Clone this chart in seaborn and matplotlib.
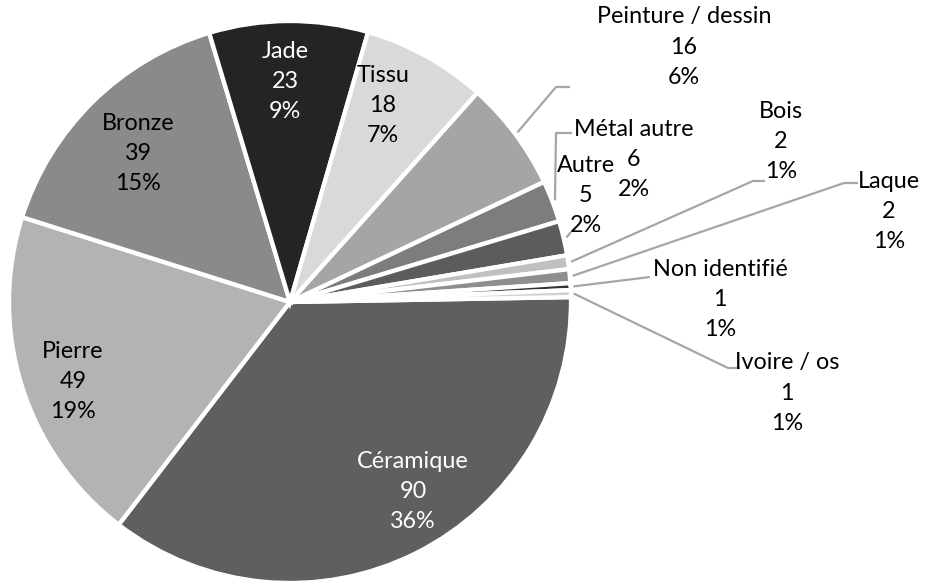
import matplotlib
matplotlib.use("Agg")
import matplotlib.pyplot as plt
import seaborn as sns
import numpy as np

# data
categories = ["Céramique", "Pierre", "Bronze", "Jade", "Tissu", "Peinture / dessin",
              "Métal autre", "Autre", "Bois", "Laque", "Non identifié", "Ivoire / os"]
counts = [90, 49, 39, 23, 18, 16, 6, 5, 2, 2, 1, 1]
percents = [36, 19, 15, 9, 7, 6, 2, 2, 1, 1, 1, 1]

colors = ["#5f5f5f", "#b3b3b3", "#8a8a8a", "#242424", "#d9d9d9", "#a5a5a5",
          "#7d7d7d", "#5c5c5c", "#c0c0c0", "#8e8e8e", "#333333", "#d0d0d0"]

W, H = 926, 582

# label layout in pixels (x, y of middle line from top), text colour, leader elbows
label_xy = [(413, 492), (73, 381), (138, 154), (285, 82), (383, 106), (684, 47),
            (634, 159), (586, 195), (781, 142), (889, 211), (720, 300), (787, 393)]
text_col = ["white", "black", "black", "white", "black", "black",
            "black", "black", "black", "black", "black", "black"]
leaders = [None, None, None, None, None,
           [(556, 87), (570, 87)],
           [(556, 133), (572, 133)],
           [(571, 232)],
           [(753, 181), (765, 181)],
           [(844, 183), (858, 183)],
           [(650, 277)],
           [(728, 368), (740, 368)]]
line_step = 30

sns.set_theme(style="white")
plt.rcParams['font.family'] = ['Lato', 'DejaVu Sans']

fig = plt.figure(figsize=(W / 100, H / 100), dpi=100)
ax = fig.add_axes([0, 0, 1, 1])

cx, cy, r = 290, H - 302, 281
wedges, _ = ax.pie(counts, colors=colors, startangle=1, counterclock=False,
                   center=(cx, cy), radius=r,
                   wedgeprops=dict(edgecolor="white", linewidth=3.1))

for i, w in enumerate(wedges):
    x, y = label_xy[i]
    lines = [categories[i], str(counts[i]), f"{percents[i]}%"]
    for k, s in enumerate(lines):
        ax.text(x, H - (y + (k - 1) * line_step), s, ha="center", va="center",
                fontsize=16.8, color=text_col[i])
    if leaders[i] is not None:
        ang = np.deg2rad((w.theta1 + w.theta2) / 2)
        pts = [(cx + r * 1.01 * np.cos(ang), cy + r * 1.01 * np.sin(ang))]
        pts += [(px, H - py) for px, py in leaders[i]]
        xs, ys = zip(*pts)
        ax.plot(xs, ys, color="#a6a6a6", lw=1.6, solid_capstyle="butt")

ax.set_xlim(0, W)
ax.set_ylim(0, H)
ax.set_aspect("equal")
ax.axis("off")

fig.savefig("out.png", dpi=100, facecolor="white")
